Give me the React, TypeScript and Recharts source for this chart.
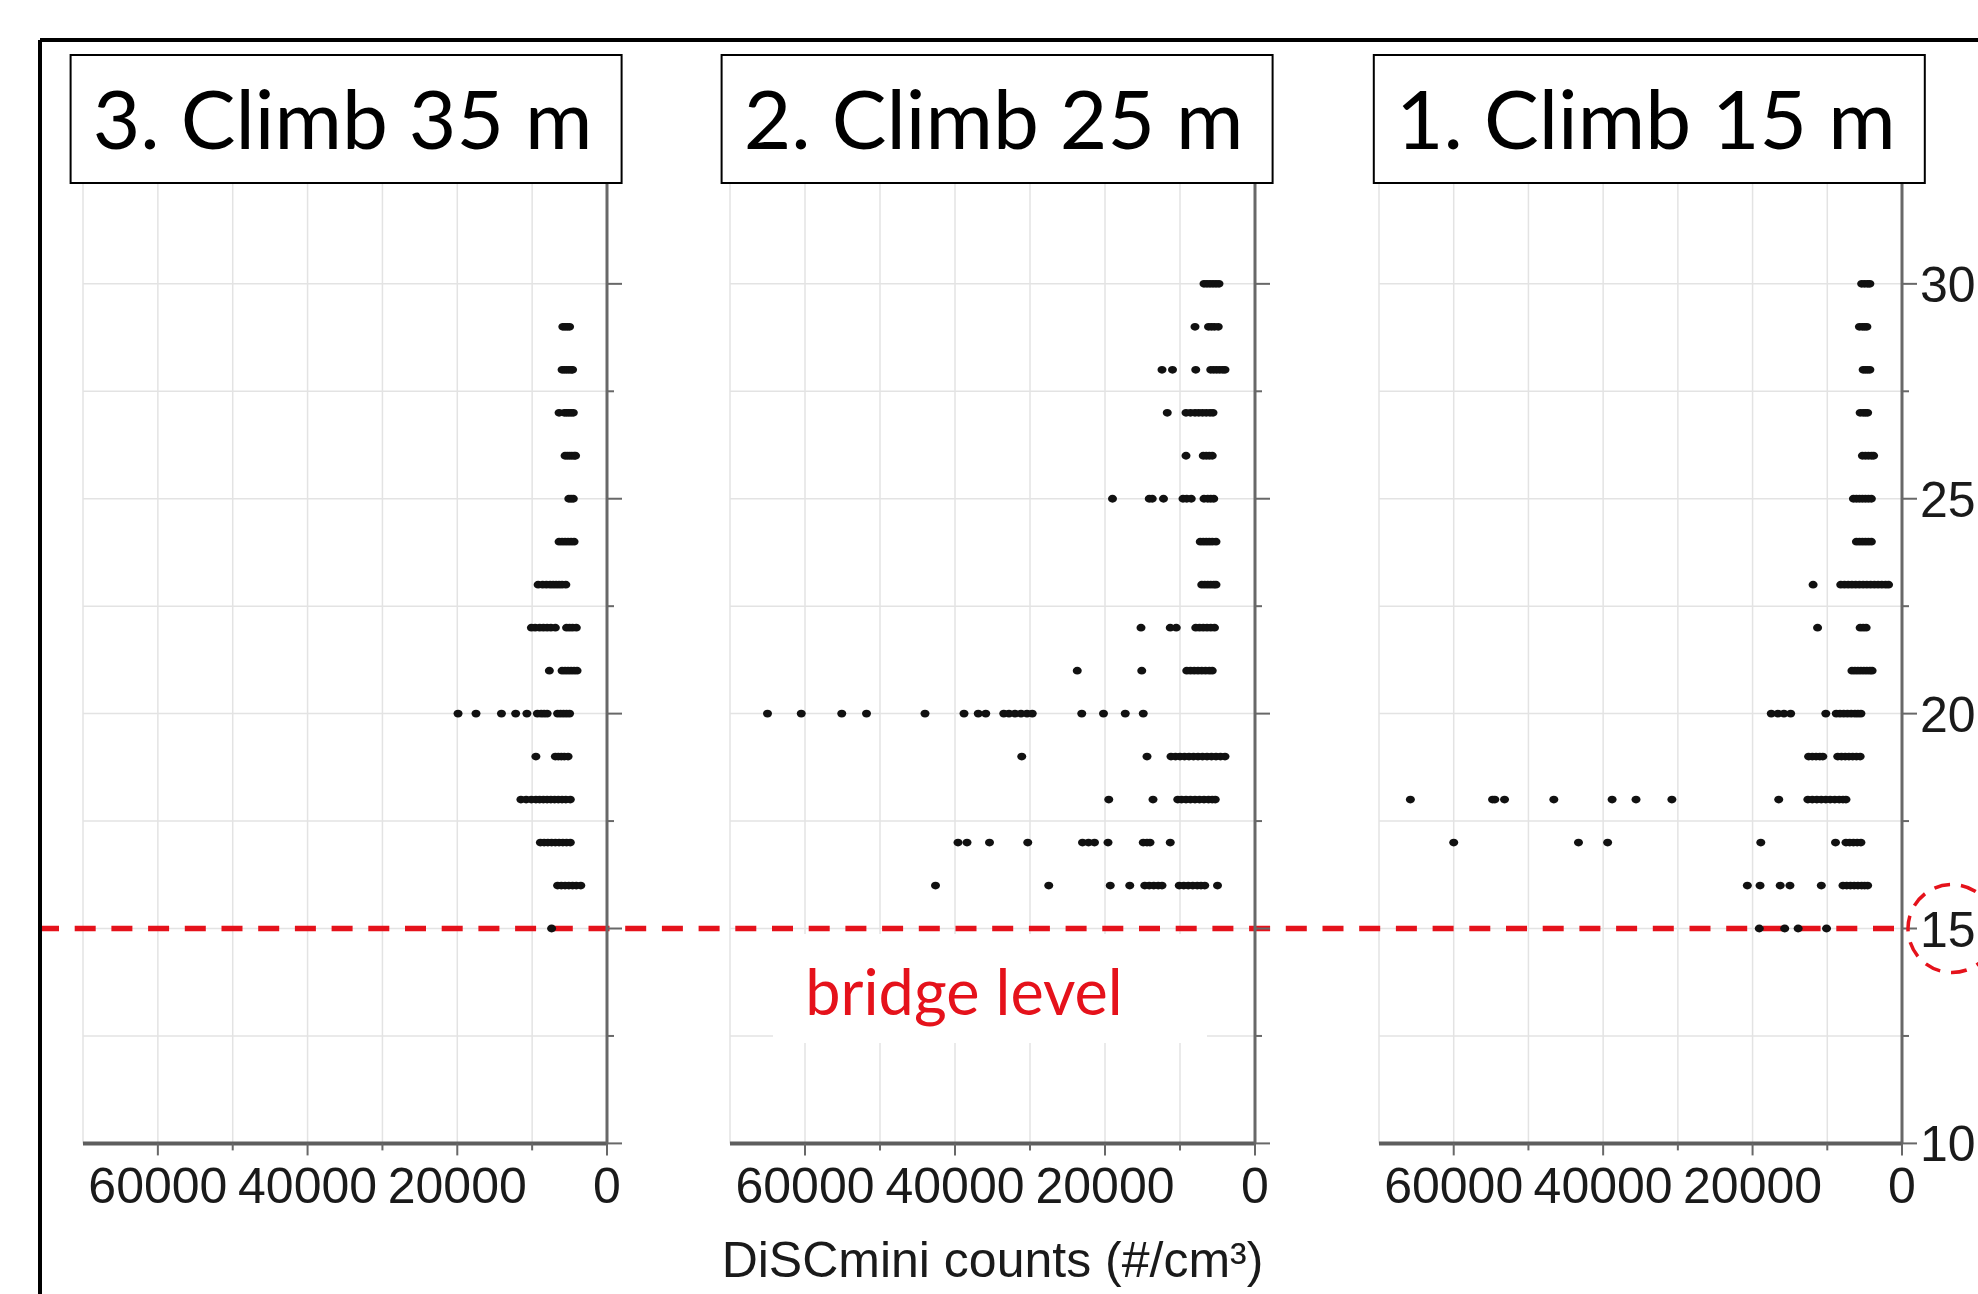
import React from "react";
import { CartesianGrid, ReferenceLine, Scatter, ScatterChart, XAxis, YAxis } from "recharts";

// DiSCmini counts in thousands of #/cm³, grouped by height above ground (m)
const climb35: [number, number[]][] = [
  [29, [5.9, 5.6, 5.3, 5.0]],
  [28, [6.0, 5.7, 5.4, 5.1, 4.8, 4.6]],
  [27, [6.4, 5.7, 5.4, 5.1, 4.8, 4.5]],
  [26, [5.6, 5.3, 5.0, 4.7, 4.4, 4.2]],
  [25, [5.1, 4.8, 4.5]],
  [24, [6.4, 6.0, 5.6, 5.2, 4.8, 4.4]],
  [23, [9.2, 8.6, 8.1, 7.6, 7.2, 6.8, 6.4, 6.0, 5.5]],
  [22, [10.1, 9.6, 9.0, 8.5, 8.0, 7.5, 6.9, 5.4, 5.0, 4.6, 4.1]],
  [21, [7.7, 6.0, 5.6, 5.2, 4.8, 4.4, 4.0]],
  [20, [19.9, 17.5, 14.1, 12.2, 10.7, 9.3, 8.8, 8.4, 8.0, 6.6, 6.2, 5.8, 5.4, 5.0]],
  [19, [9.5, 6.9, 6.5, 6.1, 5.7, 5.2]],
  [18, [11.5, 10.8, 10.1, 9.5, 9.0, 8.5, 8.0, 7.5, 7.0, 6.5, 6.0, 5.5, 4.9]],
  [17, [8.9, 8.4, 7.9, 7.4, 6.9, 6.4, 5.9, 5.4, 4.9]],
  [16, [6.6, 6.1, 5.6, 5.1, 4.6, 4.1, 3.5]],
  [15, [7.4]],
];

const climb25: [number, number[]][] = [
  [30, [6.8, 6.4, 6.0, 5.6, 5.2, 4.8]],
  [29, [8.0, 6.2, 5.8, 5.4, 4.9]],
  [28, [12.4, 11.0, 7.9, 5.9, 5.5, 5.1, 4.7, 4.3, 4.0]],
  [27, [11.7, 9.2, 8.6, 8.0, 7.5, 7.0, 6.5, 6.0, 5.6]],
  [26, [9.2, 6.9, 6.5, 6.1, 5.7]],
  [25, [19.0, 14.1, 13.7, 12.2, 9.6, 9.1, 8.5, 6.8, 6.3, 5.9, 5.5]],
  [24, [7.3, 6.9, 6.5, 6.1, 5.7, 5.2]],
  [23, [7.1, 6.7, 6.3, 5.9, 5.5, 5.2]],
  [22, [15.2, 11.3, 10.5, 7.9, 7.4, 6.9, 6.4, 5.9, 5.4]],
  [21, [23.7, 15.1, 9.1, 8.6, 8.1, 7.6, 7.1, 6.6, 6.1, 5.7]],
  [20, [65.0, 60.5, 55.1, 51.8, 44.0, 38.8, 36.9, 35.9, 33.5, 32.8, 32.0, 31.2, 30.4, 29.7, 23.1, 20.2, 17.3, 14.9]],
  [19, [31.1, 14.4, 11.2, 10.6, 10.0, 9.4, 8.8, 8.2, 7.6, 7.0, 6.4, 5.8, 5.2, 4.6, 4.0]],
  [18, [19.5, 13.6, 10.3, 9.8, 9.2, 8.6, 8.0, 7.4, 6.8, 6.2, 5.7, 5.3]],
  [17, [39.6, 38.4, 35.4, 30.3, 23.0, 22.2, 21.4, 19.6, 14.9, 14.4, 14.0, 11.3]],
  [16, [42.6, 27.5, 19.3, 16.7, 14.7, 14.1, 13.5, 12.9, 12.4, 10.1, 9.5, 8.9, 8.3, 7.7, 7.2, 6.7, 5.0]],
];

const climb15: [number, number[]][] = [
  [30, [5.4, 5.0, 4.6, 4.3]],
  [29, [5.7, 5.3, 5.0, 4.7]],
  [28, [5.2, 4.9, 4.6, 4.3]],
  [27, [5.6, 5.2, 4.9, 4.6]],
  [26, [5.3, 4.9, 4.5, 4.1, 3.8]],
  [25, [6.5, 6.1, 5.7, 5.3, 4.9, 4.5, 4.1]],
  [24, [6.1, 5.7, 5.3, 4.9, 4.5, 4.1]],
  [23, [11.9, 8.2, 7.7, 7.2, 6.7, 6.2, 5.7, 5.2, 4.7, 4.2, 3.7, 3.2, 2.7, 2.2, 1.8]],
  [22, [11.3, 5.6, 5.2, 4.8]],
  [21, [6.7, 6.3, 5.9, 5.5, 5.1, 4.7, 4.3, 4.0]],
  [20, [17.5, 16.6, 15.8, 14.9, 10.2, 8.8, 8.3, 7.8, 7.3, 6.8, 6.3, 5.9, 5.5]],
  [19, [12.5, 12.0, 11.5, 11.0, 10.6, 8.6, 8.1, 7.6, 7.1, 6.6, 6.1, 5.6]],
  [18, [65.8, 54.8, 54.5, 53.2, 46.6, 38.8, 35.6, 30.8, 16.5, 12.6, 12.0, 11.4, 10.8, 10.2, 9.6, 9.0, 8.4, 7.9, 7.5]],
  [17, [60.0, 43.3, 39.4, 18.9, 8.9, 7.5, 7.0, 6.5, 6.0, 5.5]],
  [16, [20.7, 19.0, 16.3, 15.0, 10.8, 7.9, 7.4, 6.9, 6.4, 5.9, 5.4, 5.0, 4.6]],
  [15, [19.1, 15.7, 13.9, 10.1]],
];

const X_TICKS = [0, 10000, 20000, 30000, 40000, 50000, 60000];
const X_LABELS = [0, 20000, 40000, 60000];
const Y_TICKS = [10, 12.5, 15, 17.5, 20, 22.5, 25, 27.5, 30];
const Y_LABELS = [10, 15, 20, 25, 30];
const BRIDGE_LEVEL = 15;
const AXIS_TITLE = "DiSCmini counts (#/cm³)";

const PAGE_W = 1978;
const PAGE_H = 1294;
const PLOT_TOP = 176.4;
const PLOT_BOTTOM = 1143.4;
const X_AXIS_H = 140;
const GREY = "#686868";
const GRID = "#e3e3e3";
const RED = "#e5121b";
const SANS = "'Liberation Sans', Arial, sans-serif";
const TITLE_FONT = "Lato, 'Open Sans', sans-serif";

const PANELS = [
  { title: "3. Climb 35 m", rows: climb35, left: 0, width: 668, ml: 83, mr: 21, rw: 40, box: 70.6, extL: 45, extR: 61, labels: false },
  { title: "2. Climb 25 m", rows: climb25, left: 668, width: 649, ml: 62, mr: 22, rw: 40, box: 721.6, extL: 62, extR: 62, labels: false },
  { title: "1. Climb 15 m", rows: climb15, left: 1317, width: 661, ml: 62, mr: 0, rw: 76, box: 1373.8, extL: 62, extR: 3, labels: true },
];

const toPoints = (rows: [number, number[]][]) =>
  rows.flatMap(([h, cs]) => cs.map((k) => ({ c: k * 1000, h })));

const XTick = ({ x, y, payload }: any) => {
  const major = X_LABELS.includes(payload.value);
  return (
    <g>
      <line x1={x} x2={x} y1={y} y2={y + (major ? 12 : 7)} stroke={GREY} strokeWidth={2} />
      {major && (
        <text x={x} y={y + 60} textAnchor="middle" fontSize={50} fontFamily={SANS} fill="#1a1a1a">
          {payload.value}
        </text>
      )}
    </g>
  );
};

const LeftTick = ({ x, y, payload }: any) => {
  const major = Y_LABELS.includes(payload.value);
  return <line x1={x} x2={x + (major ? 11 : 7)} y1={y} y2={y} stroke={GREY} strokeWidth={2} />;
};

const makeRightTick = (labels: boolean) => ({ x, y, payload }: any) => {
  const major = Y_LABELS.includes(payload.value);
  return (
    <g>
      <line x1={x} x2={x + (major ? 15 : 7)} y1={y} y2={y} stroke={GREY} strokeWidth={2} />
      {labels && major && (
        <text x={x + 18} y={y} dy="0.36em" fontSize={50} fontFamily={SANS} fill="#1a1a1a">
          {payload.value}
        </text>
      )}
      {labels && payload.value === BRIDGE_LEVEL && (
        <ellipse cx={x + 50} cy={y} rx={44} ry={44} fill="none" stroke={RED} strokeWidth={3.5} strokeDasharray="16 11" />
      )}
    </g>
  );
};

function Panel({ p, withTitle }: { p: (typeof PANELS)[number]; withTitle: boolean }) {
  const data = toPoints(p.rows);
  return (
    <div style={{ position: "absolute", left: p.left, top: 0 }}>
      <ScatterChart
        width={p.width}
        height={PAGE_H}
        margin={{ top: PLOT_TOP, right: p.mr, bottom: PAGE_H - PLOT_BOTTOM - X_AXIS_H, left: p.ml }}
      >
        <CartesianGrid stroke={GRID} strokeWidth={1.5} />
        <XAxis
          type="number"
          dataKey="c"
          domain={[0, 70000]}
          reversed
          allowDataOverflow
          ticks={X_TICKS}
          interval={0}
          height={X_AXIS_H}
          tickSize={0}
          tickMargin={0}
          tickLine={false}
          tick={XTick}
          axisLine={{ stroke: "#5e5e5e", strokeWidth: 4 }}
          label={
            withTitle
              ? { value: AXIS_TITLE, position: "insideBottom", offset: 6, fontSize: 50, fontFamily: SANS, fill: "#1a1a1a" }
              : undefined
          }
        />
        <YAxis
          type="number"
          dataKey="h"
          orientation="right"
          domain={[10, 32.5]}
          allowDataOverflow
          ticks={Y_TICKS}
          interval={0}
          width={p.rw}
          tickSize={0}
          tickMargin={0}
          tickLine={false}
          tick={makeRightTick(p.labels)}
          axisLine={{ stroke: GREY, strokeWidth: 3 }}
        />
        <YAxis
          yAxisId="left"
          type="number"
          orientation="left"
          domain={[10, 32.5]}
          allowDataOverflow
          ticks={Y_TICKS}
          interval={0}
          width={0}
          tickSize={0}
          tickMargin={0}
          tickLine={false}
          tick={LeftTick}
          axisLine={{ stroke: GREY, strokeWidth: 3 }}
        />
        <ReferenceLine
          y={BRIDGE_LEVEL}
          shape={(lp: any) => {
            // the x axis is reversed, so the end points may come in either order
            const start = Math.min(lp.x1, lp.x2) - p.extL;
            const end = Math.max(lp.x1, lp.x2) + p.extR;
            return (
              <line
                x1={start}
                x2={end}
                y1={lp.y1}
                y2={lp.y2}
                stroke={RED}
                strokeWidth={5.5}
                strokeDasharray="21 15.7"
                strokeDashoffset={p.left + start - 38}
              />
            );
          }}
        />
        <Scatter
          data={data}
          isAnimationActive={false}
          shape={(sp: any) => <ellipse cx={sp.cx} cy={sp.cy} rx={4.5} ry={3.9} fill="#111" />}
        />
      </ScatterChart>
    </div>
  );
}

export default function App() {
  return (
    <div
      style={{
        position: "absolute",
        left: 0,
        top: 0,
        width: PAGE_W,
        height: PAGE_H,
        overflow: "hidden",
        background: "#fff",
      }}
    >
      {PANELS.map((p, i) => (
        <Panel key={p.title} p={p} withTitle={i === 1} />
      ))}
      <svg
        width={PAGE_W}
        height={PAGE_H}
        style={{ position: "absolute", left: 0, top: 0, pointerEvents: "none" }}
      >
        {/* outer frame */}
        <line x1={40} y1={40} x2={PAGE_W} y2={40} stroke="#000" strokeWidth={4} />
        <line x1={40} y1={40} x2={40} y2={PAGE_H} stroke="#000" strokeWidth={4} />
        {PANELS.map((p) => (
          <g key={p.title}>
            <rect x={p.box} y={55} width={551} height={128} fill="#fff" stroke="#000" strokeWidth={2} />
            <text x={p.box + 272} y={149} textAnchor="middle" fontSize={82} fontFamily={TITLE_FONT} fill="#000">
              {p.title}
            </text>
          </g>
        ))}
        <rect x={773} y={934} width={434} height={109} fill="#fff" />
        <text x={964} y={1015} textAnchor="middle" fontSize={63} fontFamily={TITLE_FONT} fill={RED}>
          bridge level
        </text>
      </svg>
    </div>
  );
}
